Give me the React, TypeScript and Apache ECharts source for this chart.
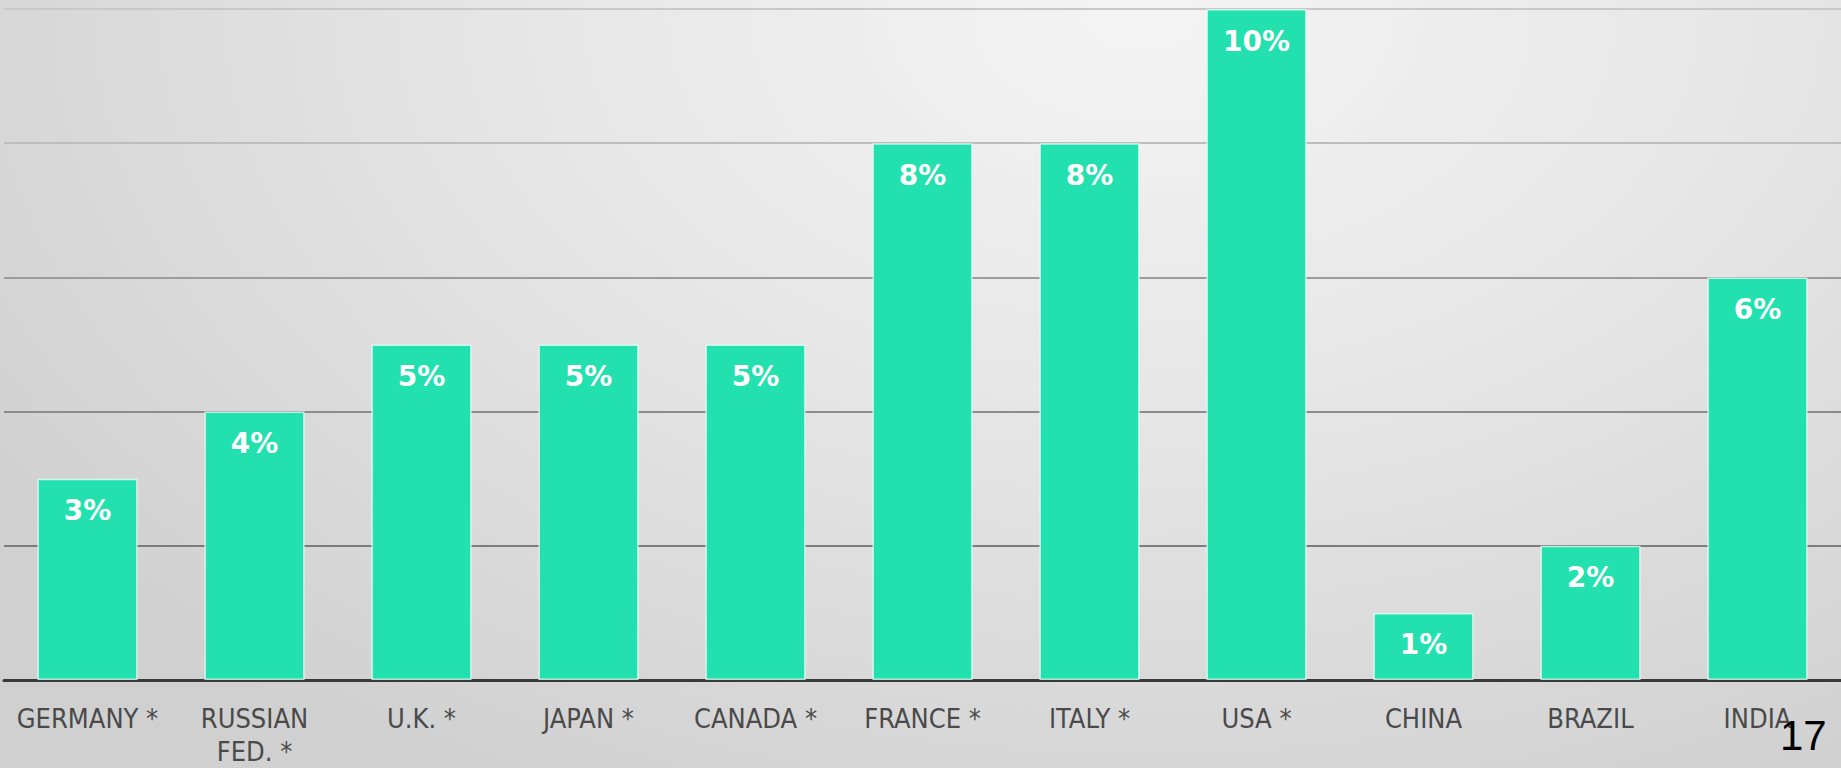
import React, { useEffect, useRef } from "react";
import * as echarts from "echarts";

const categories = [
  "GERMANY *",
  "RUSSIAN\nFED. *",
  "U.K. *",
  "JAPAN *",
  "CANADA *",
  "FRANCE *",
  "ITALY *",
  "USA *",
  "CHINA",
  "BRAZIL",
  "INDIA",
];
const values = [3, 4, 5, 5, 5, 8, 8, 10, 1, 2, 6];
const pageNumber = "17";

export default function App() {
  const ref = useRef<HTMLDivElement>(null);
  useEffect(() => {
    if (!ref.current) return;
    const chart = echarts.init(ref.current, null, { renderer: "svg" });
    chart.setOption({
      animation: false,
      backgroundColor: "transparent",
      grid: { left: 4, right: -2, top: 9, bottom: 82, containLabel: false },
      xAxis: {
        type: "category",
        data: categories,
        axisLine: { show: true, lineStyle: { color: "#3a3a3a", width: 3 } },
        axisTick: { show: false },
        axisLabel: {
          color: "#4a4a4a",
          fontFamily: "'DejaVu Sans Condensed', 'DejaVu Sans', sans-serif",
          fontSize: 27,
          lineHeight: 33,
          margin: 22,
          interval: 0,
        },
      },
      yAxis: {
        type: "value",
        min: 0,
        max: 10,
        interval: 2,
        axisLine: { show: false },
        axisTick: { show: false },
        axisLabel: { show: false },
        splitLine: {
          show: true,
          lineStyle: {
            width: 2,
            color: ["#555555", "#7c7c7c", "#8c8c8c", "#9c9c9c", "#bdbdbd", "#c8c8c8"],
          },
        },
      },
      series: [
        {
          type: "bar",
          data: values,
          barCategoryGap: "40%",
          itemStyle: {
            color: "#23E0AF",
            borderColor: "rgba(230,255,248,0.75)",
            borderWidth: 1.5,
          },
          label: {
            show: true,
            position: "insideTop",
            distance: 17,
            formatter: "{c}%",
            color: "#ffffff",
            fontWeight: "bold",
            fontSize: 28,
            lineHeight: 30,
            fontFamily: "'DejaVu Sans', sans-serif",
          },
        },
      ],
      graphic: [
        {
          type: "text",
          x: 1780,
          y: 735,
          z: 100,
          style: {
            text: pageNumber,
            fill: "#000000",
            fontSize: 42,
            fontFamily: "'Liberation Sans', Arial, sans-serif",
            textAlign: "left",
            textVerticalAlign: "middle",
          },
        },
      ],
    });
    return () => chart.dispose();
  }, []);
  return (
    <div
      ref={ref}
      style={{
        position: "absolute",
        left: 0,
        top: 0,
        width: 1841,
        height: 768,
        background:
          "radial-gradient(ellipse 75% 115% at 62% 2%, #f4f4f4 0%, #e6e6e6 45%, #d0d0d0 100%)",
      }}
    />
  );
}
